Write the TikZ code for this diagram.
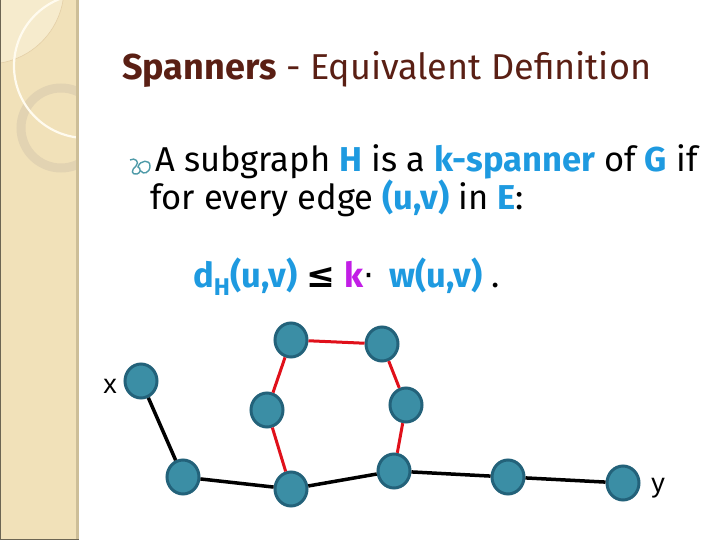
\documentclass[tikz,border=0pt]{standalone}
\usepackage{fontspec}
\setmainfont{Fira Sans}
\newfontfamily\symfont{DejaVu Sans}
\newfontfamily\lblfont{Liberation Sans}
\definecolor{sidebg}{HTML}{F1E1B9}
\definecolor{sideedge}{HTML}{CDBE98}
\definecolor{sidepale}{HTML}{F6EBCD}
\definecolor{ringc}{HTML}{E2D3B2}
\definecolor{arcc}{HTML}{FFFBEF}
\definecolor{titlec}{HTML}{5A1F14}
\definecolor{bluec}{HTML}{1E9AE0}
\definecolor{purplec}{HTML}{C21EE6}
\definecolor{nodefill}{HTML}{3B8EA5}
\definecolor{nodeline}{HTML}{23627A}
\definecolor{redc}{HTML}{E0101A}
\definecolor{bulletc}{HTML}{4E9AA8}
\usetikzlibrary{shapes.geometric}
\tikzset{
  vtx/.style={ellipse, fill=nodefill, draw=nodeline, line width=3pt, minimum width=32pt, minimum height=34pt, inner sep=0pt},
  blackedge/.style={line width=3.5pt, black},
  rededge/.style={line width=3pt, redc},
  txt/.style={anchor=base west, inner sep=0pt},
  body/.style={txt, font=\fontsize{34.5}{40}\selectfont},
  lbl/.style={inner sep=0pt, font=\lblfont\fontsize{27}{30}\selectfont}
}
\begin{document}
\begin{tikzpicture}[x=1pt,y=-1pt]
\useasboundingbox (0,0) rectangle (720,540);
\fill[white] (0,0) rectangle (720,540);
% sidebar
\fill[sidebg] (0,0) rectangle (76,540);
\begin{scope}
\clip (0,0) rectangle (76,540);
\fill[sidepale] (-12,-12) circle[radius=76];
\draw[ringc!80!brown!60!sidebg, line width=0.6pt] (-12,-12) circle[radius=76];
\draw[ringc, line width=9pt] (61,128) circle[radius=40];
\draw[arcc, line width=2.2pt] (86,66) circle[radius=72];
\end{scope}
\fill[sideedge] (76,0) rectangle (79,540);
\fill[black!55!sidebg] (0,0) rectangle (1,540);
\fill[black!55!sidebg] (0,538.5) rectangle (79,540);
% title
\node[txt, text=titlec, font=\fontsize{36}{42}\selectfont] (title) at (122,80) {\textbf{Spanners} - Equivalent Definition};
% bullet
\draw[bulletc, line width=1.4pt] (130,160) .. controls (135,157) and (140,162) .. (136,166)
  .. controls (131,170) and (131,175) .. (137,174)
  .. controls (141,173) and (141,168) .. (138,167)
  .. controls (140,160) and (150,159) .. (150,166)
  .. controls (150,173) and (143,175) .. (141,171);
\node[body] (l1) at (155,172) {A subgraph \textcolor{bluec}{\textbf{H}} is a \textcolor{bluec}{\textbf{k-spanner}} of \textcolor{bluec}{\textbf{G}} if};
\node[body] (l2) at (150,210) {for every edge \textcolor{bluec}{\textbf{(u,v)}} in \textcolor{bluec}{\textbf{E}}:};
\node[body] (f) at (193,287) {\textcolor{bluec}{\textbf{d\textsubscript{H}(u,v)}} {\symfont\bfseries ≤} \textcolor{purplec}{\textbf{k}}{\symfont ·}\, \textcolor{bluec}{\textbf{w(u,v)}} .};
% graph nodes
\node[vtx] (x) at (141,381) {};
\node[vtx] (a) at (183,477) {};
\node[vtx] (b) at (291,489) {};
\node[vtx] (c) at (394,471) {};
\node[vtx] (d) at (508,477) {};
\node[vtx] (y) at (623,483) {};
\node[vtx] (hl) at (267,410) {};
\node[vtx] (htl) at (291,340) {};
\node[vtx] (htr) at (382,344) {};
\node[vtx] (hr) at (406,405) {};
\node[lbl] (xl) at (110,386) {x};
\node[lbl] (yl) at (658,488) {y};
% edges
\draw[blackedge] (x) -- (a);
\draw[blackedge] (a) -- (b);
\draw[blackedge] (b) -- (c);
\draw[blackedge] (c) -- (d);
\draw[blackedge] (d) -- (y);
\draw[rededge] (b) -- (hl);
\draw[rededge] (hl) -- (htl);
\draw[rededge] (htl) -- (htr);
\draw[rededge] (htr) -- (hr);
\draw[rededge] (hr) -- (c);
\end{tikzpicture}
\end{document}
